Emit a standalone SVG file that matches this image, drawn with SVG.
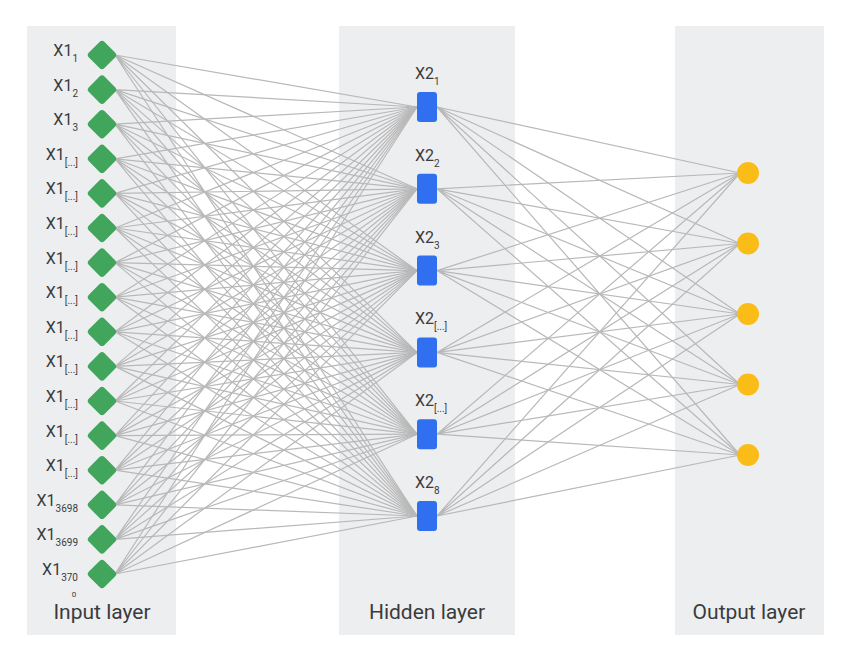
<svg xmlns="http://www.w3.org/2000/svg" width="858" height="658" viewBox="0 0 858 658">
  <style>
    .panel { fill: #edeef0; }
    .edge { fill: none; stroke: #b8b8b8; stroke-width: 1.2; }
    .in { fill: #41a65c; }
    .hid { fill: #2f6ff0; }
    .out { fill: #fabd17; }
    text { font-family: Roboto, "Liberation Sans", Arial, sans-serif; fill: #3a3b3d; }
    .lbl { font-size: 16px; }
    .sub { font-size: 10px; }
    .tiny { font-size: 8px; text-anchor: middle; }
    .layer { font-size: 21px; text-anchor: middle; }
    .r { text-anchor: end; }
  </style>
  <defs>
    <rect id="dia" x="-11" y="-11" width="22" height="22" rx="3.5" transform="rotate(45)"/>
  </defs>

  <rect width="858" height="658" fill="#ffffff"/>

  <!-- layer panels -->
  <g id="panels">
    <rect class="panel" x="27" y="26" width="149" height="609"/>
    <rect class="panel" x="339" y="26" width="176" height="609"/>
    <rect class="panel" x="675" y="26" width="149" height="609"/>
  </g>

  <!-- connectors: every input to every hidden unit, every hidden unit to every output -->
  <g id="connectors" class="edge">
    <path d="M115 55L417 107M115 55L417 188.8M115 55L417 270.6M115 55L417 352.4M115 55L417 434.2M115 55L417 516"/>
    <path d="M115 89.6L417 107M115 89.6L417 188.8M115 89.6L417 270.6M115 89.6L417 352.4M115 89.6L417 434.2M115 89.6L417 516"/>
    <path d="M115 124.2L417 107M115 124.2L417 188.8M115 124.2L417 270.6M115 124.2L417 352.4M115 124.2L417 434.2M115 124.2L417 516"/>
    <path d="M115 158.8L417 107M115 158.8L417 188.8M115 158.8L417 270.6M115 158.8L417 352.4M115 158.8L417 434.2M115 158.8L417 516"/>
    <path d="M115 193.4L417 107M115 193.4L417 188.8M115 193.4L417 270.6M115 193.4L417 352.4M115 193.4L417 434.2M115 193.4L417 516"/>
    <path d="M115 228L417 107M115 228L417 188.8M115 228L417 270.6M115 228L417 352.4M115 228L417 434.2M115 228L417 516"/>
    <path d="M115 262.6L417 107M115 262.6L417 188.8M115 262.6L417 270.6M115 262.6L417 352.4M115 262.6L417 434.2M115 262.6L417 516"/>
    <path d="M115 297.2L417 107M115 297.2L417 188.8M115 297.2L417 270.6M115 297.2L417 352.4M115 297.2L417 434.2M115 297.2L417 516"/>
    <path d="M115 331.8L417 107M115 331.8L417 188.8M115 331.8L417 270.6M115 331.8L417 352.4M115 331.8L417 434.2M115 331.8L417 516"/>
    <path d="M115 366.4L417 107M115 366.4L417 188.8M115 366.4L417 270.6M115 366.4L417 352.4M115 366.4L417 434.2M115 366.4L417 516"/>
    <path d="M115 401L417 107M115 401L417 188.8M115 401L417 270.6M115 401L417 352.4M115 401L417 434.2M115 401L417 516"/>
    <path d="M115 435.6L417 107M115 435.6L417 188.8M115 435.6L417 270.6M115 435.6L417 352.4M115 435.6L417 434.2M115 435.6L417 516"/>
    <path d="M115 470.2L417 107M115 470.2L417 188.8M115 470.2L417 270.6M115 470.2L417 352.4M115 470.2L417 434.2M115 470.2L417 516"/>
    <path d="M115 504.8L417 107M115 504.8L417 188.8M115 504.8L417 270.6M115 504.8L417 352.4M115 504.8L417 434.2M115 504.8L417 516"/>
    <path d="M115 539.4L417 107M115 539.4L417 188.8M115 539.4L417 270.6M115 539.4L417 352.4M115 539.4L417 434.2M115 539.4L417 516"/>
    <path d="M115 574L417 107M115 574L417 188.8M115 574L417 270.6M115 574L417 352.4M115 574L417 434.2M115 574L417 516"/>

    <path d="M437 107L740 173M437 107L740 243.5M437 107L740 314M437 107L740 384.5M437 107L740 455"/>
    <path d="M437 188.8L740 173M437 188.8L740 243.5M437 188.8L740 314M437 188.8L740 384.5M437 188.8L740 455"/>
    <path d="M437 270.6L740 173M437 270.6L740 243.5M437 270.6L740 314M437 270.6L740 384.5M437 270.6L740 455"/>
    <path d="M437 352.4L740 173M437 352.4L740 243.5M437 352.4L740 314M437 352.4L740 384.5M437 352.4L740 455"/>
    <path d="M437 434.2L740 173M437 434.2L740 243.5M437 434.2L740 314M437 434.2L740 384.5M437 434.2L740 455"/>
    <path d="M437 516L740 173M437 516L740 243.5M437 516L740 314M437 516L740 384.5M437 516L740 455"/>
  </g>

  <!-- input layer -->
  <g id="in1"><use href="#dia" class="in" transform="translate(102 55)"/><text class="lbl r" x="78" y="56">X1<tspan class="sub" dy="6">1</tspan></text></g>
  <g id="in2"><use href="#dia" class="in" transform="translate(102 89.6)"/><text class="lbl r" x="78" y="90.6">X1<tspan class="sub" dy="6">2</tspan></text></g>
  <g id="in3"><use href="#dia" class="in" transform="translate(102 124.2)"/><text class="lbl r" x="78" y="125.2">X1<tspan class="sub" dy="6">3</tspan></text></g>
  <g id="in4"><use href="#dia" class="in" transform="translate(102 158.8)"/><text class="lbl r" x="78" y="159.8">X1<tspan class="sub" dy="6">[...]</tspan></text></g>
  <g id="in5"><use href="#dia" class="in" transform="translate(102 193.4)"/><text class="lbl r" x="78" y="194.4">X1<tspan class="sub" dy="6">[...]</tspan></text></g>
  <g id="in6"><use href="#dia" class="in" transform="translate(102 228)"/><text class="lbl r" x="78" y="229">X1<tspan class="sub" dy="6">[...]</tspan></text></g>
  <g id="in7"><use href="#dia" class="in" transform="translate(102 262.6)"/><text class="lbl r" x="78" y="263.6">X1<tspan class="sub" dy="6">[...]</tspan></text></g>
  <g id="in8"><use href="#dia" class="in" transform="translate(102 297.2)"/><text class="lbl r" x="78" y="298.2">X1<tspan class="sub" dy="6">[...]</tspan></text></g>
  <g id="in9"><use href="#dia" class="in" transform="translate(102 331.8)"/><text class="lbl r" x="78" y="332.8">X1<tspan class="sub" dy="6">[...]</tspan></text></g>
  <g id="in10"><use href="#dia" class="in" transform="translate(102 366.4)"/><text class="lbl r" x="78" y="367.4">X1<tspan class="sub" dy="6">[...]</tspan></text></g>
  <g id="in11"><use href="#dia" class="in" transform="translate(102 401)"/><text class="lbl r" x="78" y="402">X1<tspan class="sub" dy="6">[...]</tspan></text></g>
  <g id="in12"><use href="#dia" class="in" transform="translate(102 435.6)"/><text class="lbl r" x="78" y="436.6">X1<tspan class="sub" dy="6">[...]</tspan></text></g>
  <g id="in13"><use href="#dia" class="in" transform="translate(102 470.2)"/><text class="lbl r" x="78" y="471.2">X1<tspan class="sub" dy="6">[...]</tspan></text></g>
  <g id="in14"><use href="#dia" class="in" transform="translate(102 504.8)"/><text class="lbl r" x="78" y="505.8">X1<tspan class="sub" dy="6">3698</tspan></text></g>
  <g id="in15"><use href="#dia" class="in" transform="translate(102 539.4)"/><text class="lbl r" x="78" y="540.4">X1<tspan class="sub" dy="6">3699</tspan></text></g>
  <g id="in16"><use href="#dia" class="in" transform="translate(102 574)"/><text class="lbl r" x="78" y="575">X1<tspan class="sub" dy="6">370</tspan></text><text class="tiny" x="74" y="597">0</text></g>

  <!-- hidden layer -->
  <g id="hid1"><rect class="hid" x="417" y="92" width="20" height="30" rx="3"/><text class="lbl" x="415" y="79">X2<tspan class="sub" dy="6">1</tspan></text></g>
  <g id="hid2"><rect class="hid" x="417" y="173.8" width="20" height="30" rx="3"/><text class="lbl" x="415" y="160.8">X2<tspan class="sub" dy="6">2</tspan></text></g>
  <g id="hid3"><rect class="hid" x="417" y="255.6" width="20" height="30" rx="3"/><text class="lbl" x="415" y="242.6">X2<tspan class="sub" dy="6">3</tspan></text></g>
  <g id="hid4"><rect class="hid" x="417" y="337.4" width="20" height="30" rx="3"/><text class="lbl" x="415" y="324.4">X2<tspan class="sub" dy="6">[...]</tspan></text></g>
  <g id="hid5"><rect class="hid" x="417" y="419.2" width="20" height="30" rx="3"/><text class="lbl" x="415" y="406.2">X2<tspan class="sub" dy="6">[...]</tspan></text></g>
  <g id="hid6"><rect class="hid" x="417" y="501" width="20" height="30" rx="3"/><text class="lbl" x="415" y="488">X2<tspan class="sub" dy="6">8</tspan></text></g>

  <!-- output layer -->
  <g id="out1"><circle class="out" cx="748" cy="173" r="11"/></g>
  <g id="out2"><circle class="out" cx="748" cy="243.5" r="11"/></g>
  <g id="out3"><circle class="out" cx="748" cy="314" r="11"/></g>
  <g id="out4"><circle class="out" cx="748" cy="384.5" r="11"/></g>
  <g id="out5"><circle class="out" cx="748" cy="455" r="11"/></g>

  <!-- layer captions -->
  <g id="captions">
    <text class="layer" x="102" y="619">Input layer</text>
    <text class="layer" x="427" y="619">Hidden layer</text>
    <text class="layer" x="749" y="619">Output layer</text>
  </g>
</svg>
